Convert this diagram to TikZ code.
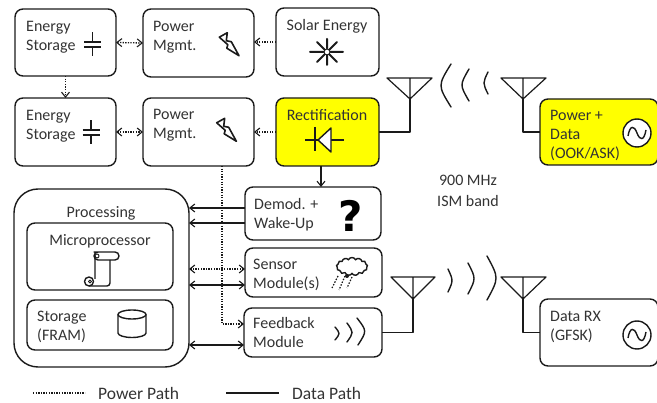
\documentclass[tikz,border=0pt]{standalone}
\usepackage{fontspec}
\setmainfont{Carlito}
\newfontfamily\qfont{DejaVu Sans}
\usetikzlibrary{arrows.meta,shapes.symbols,shapes.geometric}
\definecolor{ink}{HTML}{1A1A1A}
\definecolor{txtc}{HTML}{333333}
\definecolor{hl}{HTML}{FFFF00}
\tikzset{
  x=1pt,y=-1pt,
  box/.style={draw=ink,line width=1.4pt,rounded corners=8pt,inner sep=0pt,outer sep=0pt},
  txt/.style={text=txtc,font=\fontsize{16}{19}\selectfont,align=left,anchor=north west,inner sep=0pt},
  ctxt/.style={txt,align=center,anchor=center},
  legendtxt/.style={txt,anchor=west,font=\fontsize{17.5}{19}\selectfont},
  tip/.style={-{Straight Barb[length=5pt,width=8pt,line width=1.1pt]}},
  both/.style={{Straight Barb[length=5pt,width=8pt,line width=1.1pt]}-{Straight Barb[length=5pt,width=8pt,line width=1.1pt]}},
  power/.style={ink,line width=1.3pt,dash pattern=on 1.3pt off 1.3pt},
  data/.style={ink,line width=1.3pt},
  icon/.style={ink,line width=1.4pt,line join=round},
  wave/.style={ink,line width=1.4pt,line cap=round},
  ant/.style={ink,line width=1.2pt,line join=round},
  pics/bolt/.style={code={
    \draw[icon,line width=1.6pt,fill=white] (0,4.5)--(8,0)--(7,8)--(12,9)--(19.7,23)--(7.5,15.5)--(8.5,12)--cycle;}},
  pics/ac/.style={code={
    \draw[icon,fill=white,line width=1.4pt] (0,0) circle[radius=14];
    \draw[icon] (-9,3) .. controls (-7,-8) and (-3,-8) .. (0,0) .. controls (3,8) and (7,8) .. (9,-3);}},
  pics/capa/.style={code={
    \draw[icon] (-8.5,-2.5)--(8.5,-2.5) (-8.5,2.5)--(8.5,2.5) (0,-12)--(0,-2.5) (0,2.5)--(0,12);}},
}
\begin{document}
\begin{tikzpicture}
\useasboundingbox (0,0) rectangle (657,403);
% boxes
\node[box,minimum width=101pt,minimum height=67pt] (es1) at (65.5,42.5) {};
\node[box,minimum width=111pt,minimum height=68pt] (pm1) at (198.5,43) {};
\node[box,minimum width=103pt,minimum height=68pt] (solar) at (327.5,42) {};
\node[box,minimum width=101pt,minimum height=68pt] (es2) at (65.5,132) {};
\node[box,minimum width=111pt,minimum height=68pt] (pm2) at (198.5,132) {};
\node[box,fill=hl,minimum width=103pt,minimum height=68pt] (rect) at (327.5,132) {};
\node[box,minimum width=136pt,minimum height=53pt] (demod) at (313,213.5) {};
\node[box,minimum width=137pt,minimum height=49pt] (sensor) at (313.5,272.5) {};
\node[box,minimum width=138pt,minimum height=49pt] (feedback) at (313,332.5) {};
\node[box,rounded corners=24pt,minimum width=175pt,minimum height=178pt] (proc) at (101.5,278) {};
\node[box,minimum width=146pt,minimum height=67pt] (micro) at (100,256.5) {};
\node[box,minimum width=146pt,minimum height=50pt] (stor) at (100,325) {};
\node[box,fill=hl,minimum width=118pt,minimum height=66pt] (prx) at (599,132) {};
\node[box,minimum width=118pt,minimum height=67pt] (drx) at (599,332.5) {};
% texts
\node[txt] (t1) at (26,21) {Energy\\Storage};
\node[txt] (t2) at (153,21) {Power\\Mgmt.};
\node[ctxt] (t3) at (327,26) {Solar Energy};
\node[txt] (t4) at (26,110) {Energy\\Storage};
\node[txt] (t5) at (153,109) {Power\\Mgmt.};
\node[ctxt] (t6) at (327,115) {Rectification};
\node[txt] (t7) at (254,198) {Demod. +\\Wake-Up};
\node[txt] (t8) at (253,259) {Sensor\\Module(s)};
\node[txt] (t9) at (253,317) {Feedback\\Module};
\node[ctxt] (t10) at (101,213) {Processing};
\node[ctxt] (t11) at (100,241) {Microprocessor};
\node[txt] (t12) at (37,311) {Storage\\(FRAM)};
\node[txt] (t13) at (550,110) {Power +\\Data\\(OOK/ASK)};
\node[txt] (t14) at (550,311) {Data RX\\(GFSK)};
\node[ctxt,font=\fontsize{16}{20.5}\selectfont] (t15) at (468,191) {900 MHz\\ISM band};
% legend
\coordinate (la) at (33,393); \coordinate (lb) at (85,393);
\coordinate (lc) at (226,393); \coordinate (ld) at (279,393);
\draw[power] (la)--(lb);
\draw[data] (lc)--(ld);
\node[legendtxt] (t16) at (98,393) {Power Path};
\node[legendtxt] (t17) at (292,393) {Data Path};
% connectors
\draw[power,both] (es1.east)--(pm1.west);
\draw[power,tip] (solar.west)--(solar.west-|pm1.east);
\draw[power,tip] ([yshift=0pt]es1.south)--(es2.north);
\draw[power,both] (es2.east)--(pm2.west);
\draw[power,tip] (rect.west)--(pm2.east);
\draw[data,tip] ([xshift=-6.5pt]rect.south)--([xshift=8pt]demod.north);
\draw[power,tip] ([xshift=23.5pt]pm2.south) |- ([yshift=8.5pt]feedback.west);
\draw[data,tip] ([yshift=5.5pt]demod.west)--([yshift=70pt]proc.east);
\draw[data,tip] ([yshift=-9.5pt]demod.west)--([yshift=55pt]proc.east);
\draw[power,both] ([yshift=3.5pt]sensor.west)--([yshift=9pt]proc.east);
\draw[data,both] ([yshift=-12.5pt]sensor.west)--([yshift=-7pt]proc.east);
\draw[data,both] ([yshift=-12.5pt]feedback.west)--([yshift=-67pt]proc.east);
% antennas
\coordinate (a1) at (410,99); \coordinate (a2) at (523,99); \coordinate (a3) at (413,299); \coordinate (a4) at (523,299);
\draw[ant] (387,78)--(432,78)--(a1)--cycle (410,78)--(a1);
\draw[ant] (501,78)--(546,78)--(a2)--cycle (523,78)--(a2);
\draw[ant] (391,277)--(435,277)--(a3)--cycle (413,277)--(a3);
\draw[ant] (501,277)--(546,277)--(a4)--cycle (523,277)--(a4);
\draw[ant] (rect.east) -| (a1);
\draw[ant] (prx.west) -| (a2);
\draw[ant] (feedback.east) -| (a3);
\draw[ant] (drx.west) -| (a4);
% waves
\draw[wave] (451,64) .. controls (437.7,85.5) .. (451,107);
\draw[wave] (469,69) .. controls (459.7,85) .. (469,101);
\draw[wave] (488,72) .. controls (482.7,83) .. (488,94);
\draw[wave] (448,269) .. controls (453.3,280.5) .. (448,292);
\draw[wave] (468,263) .. controls (476,278.5) .. (468,294);
\draw[wave] (487,256) .. controls (499,278) .. (487,300);
\draw[wave] (335,327) .. controls (340.3,333.5) .. (335,340);
\draw[wave] (347,323) .. controls (353.7,332.5) .. (347,342);
\draw[wave] (357,318) .. controls (367,331) .. (358,345);
% icons
\pic at (92.5,44.5) {capa};
\pic at (91,132.5) {capa};
\pic at (219.3,32.7) {bolt};
\pic at (216.7,118.3) {bolt};
\pic at (637,133) {ac};
\pic at (637,335) {ac};
% sun
\draw[ink,line width=2pt,line cap=round]
  (310,52)--(323.5,52) (330.5,52)--(343,52) (327,39)--(327,48.5) (327,55.5)--(327,65)
  (317,42)--(324.5,49.5) (329.5,54.5)--(337,62) (337,42)--(329.5,49.5) (324.5,54.5)--(317,62);
\draw[icon,line width=1pt] (327,52) circle[radius=3];
% diode
\draw[icon] (305,140)--(318,140) (331,140)--(344,140) (315,127)--(315,151);
\draw[icon,fill=white] (318,140)--(331,128)--(331,152)--cycle;
% question mark
\node[inner sep=0pt,text=black,font=\qfont\bfseries\fontsize{42}{42}\selectfont] (qm) at (351,215.5) {?};
% scroll
\draw[icon,rounded corners=3pt] (95,256)--(95,279) (110,260)--(110,286)--(89,286);
\draw[icon,rounded corners=4pt] (98,252)--(119,252)--(119,260)--(94,260)--(94,252)--cycle;
\draw[icon,line width=1pt] (97,256) circle[radius=2];
\draw[icon] (89,281.5) circle[radius=4.5];
\draw[icon,line width=1pt] (90,281.5) circle[radius=1.5];
% cylinder
\draw[icon] (118,314.5)--(118,333) arc[start angle=180,end angle=0,x radius=14,y radius=4.5]--(146,314.5);
\draw[icon] (132,314.5) ellipse[x radius=14,y radius=4.5];
% cloud
\node[cloud,draw=ink,line width=1.4pt,fill=white,cloud puffs=13,cloud puff arc=130,aspect=1.7,minimum width=31pt,minimum height=18pt,inner sep=0pt] (cl) at (352,266.5) {};
\draw[ink,line width=1.2pt,dash pattern=on 1.5pt off 1.5pt] (338,276)--(332,288) (345,276)--(339,290) (352,277)--(347,288);
\fill[ink] (347,276) circle[radius=2];
\end{tikzpicture}
\end{document}
